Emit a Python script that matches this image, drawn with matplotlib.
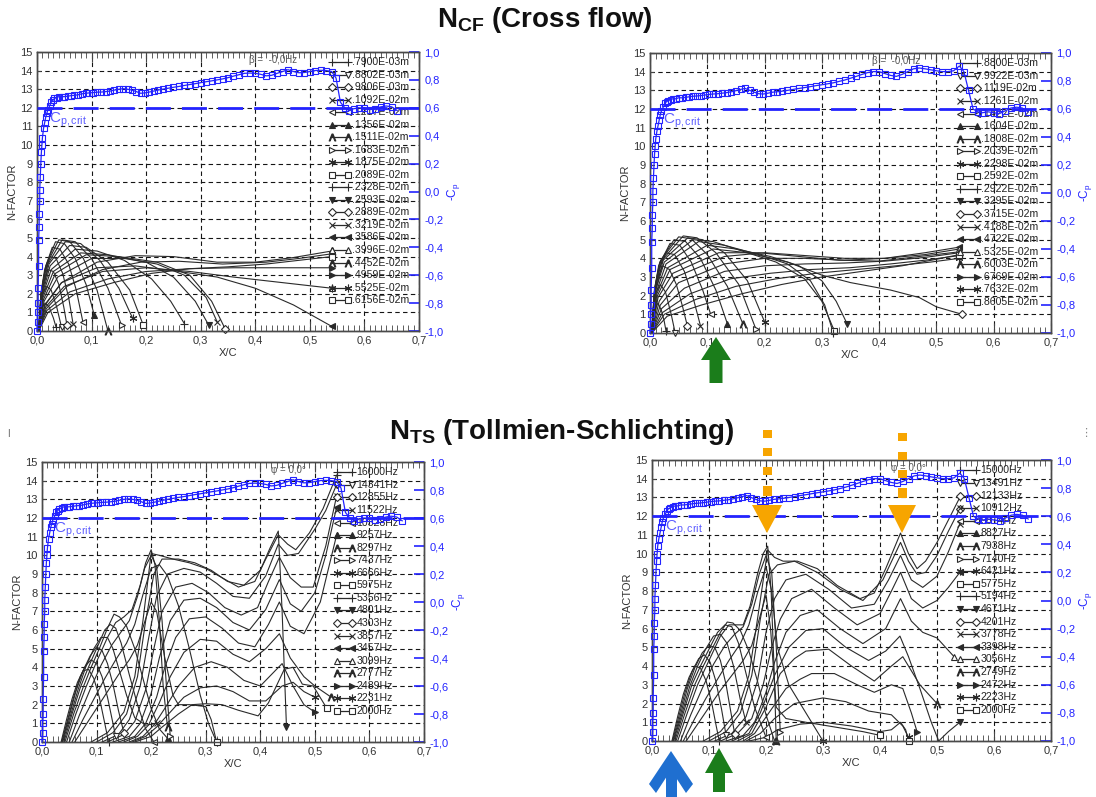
import matplotlib
matplotlib.use('Agg')
import matplotlib.pyplot as plt
from matplotlib.patches import Polygon
import numpy as np

plt.rcParams['font.family'] = ['Liberation Sans', 'DejaVu Sans']
plt.rcParams['mathtext.fontset'] = 'custom'
plt.rcParams['mathtext.rm'] = 'Liberation Sans'
plt.rcParams['mathtext.it'] = 'Liberation Sans:italic'
plt.rcParams['mathtext.bf'] = 'Liberation Sans:bold'

# ---------------- data ----------------
x_ticks = [0.0, 0.1, 0.2, 0.3, 0.4, 0.5, 0.6, 0.7]
x_tick_labels = ['0,0', '0,1', '0,2', '0,3', '0,4', '0,5', '0,6', '0,7']
n_ticks = list(range(16))
cp_ticks = [-1.0, -0.8, -0.6, -0.4, -0.2, 0.0, 0.2, 0.4, 0.6, 0.8, 1.0]
cp_tick_labels = ['-1,0', '-0,8', '-0,6', '-0,4', '-0,2', '0,0', '0,2', '0,4', '0,6', '0,8', '1,0']
cp_crit = 0.6

cf_left_labels = ['.7900E-03m', '.8802E-03m', '.9806E-03m', '.1092E-02m', '.1217E-02m',
                  '.1356E-02m', '.1511E-02m', '.1683E-02m', '.1875E-02m', '.2089E-02m',
                  '.2328E-02m', '.2593E-02m', '.2889E-02m', '.3219E-02m', '.3586E-02m',
                  '.3996E-02m', '.4452E-02m', '.4959E-02m', '.5525E-02m', '.6156E-02m']
cf_right_labels = ['.8800E-03m', '.9922E-03m', '.1119E-02m', '.1261E-02m', '.1422E-02m',
                   '.1604E-02m', '.1808E-02m', '.2039E-02m', '.2298E-02m', '.2592E-02m',
                   '.2922E-02m', '.3295E-02m', '.3715E-02m', '.4188E-02m', '.4722E-02m',
                   '.5325E-02m', '.6003E-02m', '.6769E-02m', '.7632E-02m', '.8605E-02m']
ts_left_labels = ['16000Hz', '14341Hz', '12855Hz', '11522Hz', '10328Hz', '9257Hz', '8297Hz',
                  '7437Hz', '6666Hz', '5975Hz', '5356Hz', '4801Hz', '4303Hz', '3857Hz',
                  '3457Hz', '3099Hz', '2777Hz', '2489Hz', '2231Hz', '2000Hz']
ts_right_labels = ['15000Hz', '13491Hz', '12133Hz', '10912Hz', '9814Hz', '8827Hz', '7938Hz',
                   '7140Hz', '6421Hz', '5775Hz', '5194Hz', '4671Hz', '4201Hz', '3778Hz',
                   '3398Hz', '3056Hz', '2749Hz', '2472Hz', '2223Hz', '2000Hz']

# pressure distribution (-Cp) versus x/c
cp_left_x = [0.000, 0.001, 0.001, 0.002, 0.002, 0.003, 0.003, 0.004, 0.004, 0.005, 0.005, 0.006,
             0.007, 0.008, 0.009, 0.010, 0.012, 0.014, 0.016, 0.018, 0.020, 0.023, 0.026, 0.029,
             0.032, 0.036, 0.040, 0.045, 0.050, 0.056, 0.062, 0.068, 0.075, 0.082, 0.089, 0.096,
             0.103, 0.110, 0.118, 0.126, 0.134, 0.142, 0.150, 0.158, 0.166, 0.174, 0.182, 0.190,
             0.198, 0.206, 0.214, 0.222, 0.230, 0.240, 0.250, 0.260, 0.270, 0.280, 0.290, 0.300,
             0.310, 0.320, 0.330, 0.340, 0.350, 0.360, 0.370, 0.380, 0.390, 0.400, 0.410, 0.420,
             0.430, 0.440, 0.450, 0.460, 0.470, 0.480, 0.490, 0.500, 0.510, 0.520, 0.530, 0.540,
             0.548, 0.556, 0.564, 0.572, 0.580, 0.590, 0.600, 0.610, 0.620, 0.630, 0.640, 0.650,
             0.660]
cp_left_v = [-1.000, -0.933, -0.867, -0.800, -0.693, -0.533, -0.347, -0.253, -0.160, -0.067,
             0.013, 0.107, 0.200, 0.280, 0.333, 0.387, 0.453, 0.493, 0.533, 0.560, 0.587,
             0.613, 0.640, 0.653, 0.667, 0.673, 0.680, 0.680, 0.680,
             0.683, 0.687, 0.689, 0.693, 0.700, 0.704, 0.707, 0.709, 0.712,
             0.713, 0.716, 0.720, 0.727, 0.733, 0.737, 0.733, 0.727, 0.716, 0.704, 0.707, 0.713,
             0.720, 0.727, 0.733,
             0.740, 0.747, 0.753, 0.760, 0.767, 0.773, 0.780, 0.787, 0.793, 0.800, 0.807, 0.816,
             0.827, 0.837, 0.847, 0.849, 0.847, 0.840, 0.829, 0.833, 0.847, 0.860, 0.873, 0.860,
             0.851, 0.853, 0.860, 0.867, 0.869, 0.867, 0.860,
             0.813, 0.640, 0.600, 0.580, 0.593,
             0.600, 0.597, 0.587, 0.593, 0.607, 0.613, 0.607, 0.580]
cp_right_x = cp_left_x
cp_right_v = [-1.000, -0.933, -0.867, -0.800, -0.693, -0.533, -0.347, -0.253, -0.160, -0.067,
              0.013, 0.107, 0.200, 0.280, 0.333, 0.387, 0.440, 0.480, 0.520, 0.560, 0.587,
              0.613, 0.640, 0.653, 0.660, 0.667, 0.673, 0.673, 0.680,
              0.680, 0.683, 0.687, 0.691, 0.693, 0.696, 0.700, 0.704, 0.707,
              0.709, 0.713, 0.717, 0.723, 0.731, 0.740, 0.747, 0.733, 0.720, 0.709, 0.707, 0.713,
              0.720, 0.723, 0.727,
              0.733, 0.740, 0.747, 0.753, 0.760, 0.767, 0.773, 0.780, 0.787, 0.797, 0.807, 0.820,
              0.833, 0.847, 0.860, 0.867, 0.867, 0.853, 0.840, 0.833, 0.847, 0.867, 0.887, 0.893,
              0.887, 0.880, 0.873, 0.867, 0.867, 0.873, 0.907,
              0.867, 0.733, 0.600, 0.580, 0.573,
              0.580, 0.573, 0.567, 0.587, 0.607, 0.613, 0.607, 0.580]

# N-factor curves: crossflow, left case
cf_left_x = [
    [0.003, 0.006, 0.01, 0.015, 0.022, 0.03, 0.035],
    [0.003, 0.006, 0.011, 0.018, 0.026, 0.036, 0.045],
    [0.003, 0.007, 0.012, 0.02, 0.03, 0.04, 0.049, 0.055],
    [0.003, 0.007, 0.013, 0.024, 0.035, 0.047, 0.058, 0.066],
    [0.003, 0.007, 0.014, 0.028, 0.042, 0.058, 0.072, 0.084],
    [0.003, 0.008, 0.016, 0.034, 0.05, 0.07, 0.09, 0.105],
    [0.003, 0.008, 0.018, 0.04, 0.06, 0.085, 0.11, 0.13],
    [0.003, 0.009, 0.02, 0.046, 0.07, 0.1, 0.13, 0.155],
    [0.003, 0.009, 0.022, 0.052, 0.08, 0.115, 0.15, 0.175],
    [0.003, 0.01, 0.024, 0.06, 0.09, 0.13, 0.17, 0.195],
    [0.003, 0.01, 0.026, 0.07, 0.11, 0.16, 0.21, 0.245, 0.27],
    [0.003, 0.011, 0.03, 0.08, 0.13, 0.2, 0.25, 0.29, 0.315],
    [0.003, 0.012, 0.034, 0.09, 0.15, 0.22, 0.28, 0.32, 0.345],
    [0.003, 0.013, 0.038, 0.1, 0.16, 0.22, 0.27, 0.31, 0.33],
    [0.003, 0.014, 0.045, 0.11, 0.18, 0.26, 0.33, 0.4, 0.47, 0.54],
    [0.003, 0.016, 0.05, 0.12, 0.2, 0.28, 0.36, 0.45, 0.54],
    [0.003, 0.015, 0.045, 0.11, 0.18, 0.25, 0.33, 0.4, 0.47, 0.54],
    [0.003, 0.018, 0.06, 0.13, 0.2, 0.28, 0.36, 0.45, 0.54],
    [0.003, 0.017, 0.055, 0.12, 0.19, 0.26, 0.34, 0.42, 0.48, 0.54],
    [0.003, 0.02, 0.07, 0.14, 0.21, 0.28, 0.35, 0.42, 0.48, 0.54]]
cf_left_n = [
    [0, 0.8, 1.3, 1.5, 1.3, 0.7, 0.2],
    [0, 1.2, 2.0, 2.4, 2.2, 1.3, 0.2],
    [0, 1.6, 2.6, 3.3, 3.2, 2.5, 1.3, 0.3],
    [0, 1.9, 3.0, 4.0, 3.9, 3.1, 1.8, 0.4],
    [0, 2.0, 3.3, 4.5, 4.4, 3.6, 2.2, 0.5],
    [0, 2.1, 3.5, 4.8, 4.7, 3.9, 2.5, 0.85],
    [0, 2.1, 3.6, 4.9, 4.8, 3.9, 2.2, 0.0],
    [0, 2.1, 3.6, 4.9, 4.8, 3.9, 2.3, 0.3],
    [0, 2.0, 3.6, 4.8, 4.7, 3.8, 2.3, 0.7],
    [0, 2.0, 3.5, 4.6, 4.5, 3.7, 2.2, 0.3],
    [0, 1.9, 3.3, 4.4, 4.3, 3.8, 2.8, 1.6, 0.4],
    [0, 1.8, 3.2, 4.2, 4.1, 3.7, 2.9, 1.6, 0.3],
    [0, 1.7, 3.1, 4.1, 4.0, 3.7, 3.0, 1.6, 0.1],
    [0, 1.6, 2.9, 3.9, 3.9, 3.6, 3.0, 1.8, 0.5],
    [0, 1.4, 2.6, 3.4, 3.5, 3.2, 2.9, 2.3, 1.4, 0.25],
    [0, 1.3, 2.4, 3.2, 3.4, 3.2, 2.9, 2.6, 2.3],
    [0, 1.4, 2.6, 3.7, 4.05, 4.0, 3.7, 3.7, 3.95, 4.3],
    [0, 1.1, 2.1, 2.8, 3.2, 3.35, 3.4, 3.4, 3.4],
    [0, 1.2, 2.4, 3.3, 3.7, 3.75, 3.6, 3.7, 3.9, 4.15],
    [0, 1.0, 2.0, 2.6, 3.1, 3.35, 3.45, 3.6, 3.8, 4.0]]

# crossflow, right case
cf_right_x = [
    [0.003, 0.006, 0.01, 0.014, 0.02, 0.025, 0.028],
    [0.003, 0.006, 0.011, 0.018, 0.027, 0.037, 0.044],
    [0.003, 0.007, 0.012, 0.022, 0.034, 0.046, 0.057, 0.065],
    [0.003, 0.007, 0.014, 0.028, 0.043, 0.06, 0.076, 0.088],
    [0.003, 0.008, 0.015, 0.035, 0.052, 0.072, 0.092, 0.106],
    [0.003, 0.008, 0.017, 0.042, 0.062, 0.088, 0.115, 0.135],
    [0.003, 0.009, 0.019, 0.05, 0.072, 0.1, 0.135, 0.162],
    [0.003, 0.009, 0.021, 0.058, 0.082, 0.115, 0.155, 0.185],
    [0.003, 0.01, 0.023, 0.066, 0.092, 0.13, 0.17, 0.2],
    [0.003, 0.01, 0.025, 0.075, 0.11, 0.16, 0.22, 0.27, 0.3, 0.322],
    [0.003, 0.011, 0.028, 0.085, 0.13, 0.19, 0.24, 0.28, 0.305, 0.32],
    [0.003, 0.012, 0.031, 0.1, 0.15, 0.21, 0.26, 0.3, 0.325, 0.344],
    [0.003, 0.013, 0.035, 0.11, 0.17, 0.24, 0.3, 0.35, 0.42, 0.47, 0.5, 0.545],
    [0.003, 0.014, 0.04, 0.12, 0.19, 0.26, 0.33, 0.4, 0.47, 0.54],
    [0.003, 0.016, 0.045, 0.13, 0.2, 0.27, 0.34, 0.41, 0.48, 0.54],
    [0.003, 0.018, 0.05, 0.13, 0.2, 0.27, 0.34, 0.41, 0.48, 0.54],
    [0.003, 0.02, 0.06, 0.13, 0.2, 0.27, 0.34, 0.41, 0.48, 0.54],
    [0.003, 0.022, 0.07, 0.14, 0.21, 0.28, 0.35, 0.42, 0.48, 0.54],
    [0.003, 0.025, 0.08, 0.15, 0.22, 0.29, 0.36, 0.43, 0.49, 0.54],
    [0.003, 0.03, 0.09, 0.16, 0.23, 0.3, 0.37, 0.44, 0.5, 0.54]]
cf_right_n = [
    [0, 0.9, 1.4, 1.6, 1.2, 0.6, 0.1],
    [0, 1.4, 2.2, 2.6, 2.2, 1.0, 0.0],
    [0, 1.8, 2.8, 3.6, 3.4, 2.6, 1.4, 0.4],
    [0, 2.1, 3.3, 4.3, 4.2, 3.3, 1.8, 0.4],
    [0, 2.3, 3.6, 4.8, 4.7, 3.8, 2.3, 1.0],
    [0, 2.4, 3.8, 5.0, 4.9, 4.0, 2.3, 0.5],
    [0, 2.4, 3.9, 5.15, 5.05, 4.2, 2.5, 0.5],
    [0, 2.4, 3.9, 5.2, 5.1, 4.3, 2.6, 0.2],
    [0, 2.3, 3.9, 5.1, 5.0, 4.3, 2.8, 0.6],
    [0, 2.3, 3.8, 5.0, 4.9, 4.4, 3.8, 2.9, 1.7, 0.1],
    [0, 2.2, 3.7, 4.9, 4.7, 4.2, 3.7, 2.8, 1.5, 0.0],
    [0, 2.1, 3.5, 4.7, 4.5, 4.1, 3.6, 2.8, 1.7, 0.5],
    [0, 2.0, 3.4, 4.5, 4.3, 3.8, 3.1, 2.7, 2.3, 1.9, 1.4, 1.0],
    [0, 1.9, 3.2, 4.3, 4.3, 4.1, 3.9, 3.85, 4.1, 4.35],
    [0, 1.7, 3.0, 4.1, 4.3, 4.15, 4.0, 4.0, 4.3, 4.6],
    [0, 1.5, 2.7, 3.7, 4.0, 4.0, 3.9, 4.0, 4.2, 4.5],
    [0, 1.3, 2.4, 3.3, 3.6, 3.7, 3.75, 3.85, 4.05, 4.3],
    [0, 1.1, 2.1, 2.9, 3.2, 3.4, 3.5, 3.7, 3.9, 4.15],
    [0, 1.0, 1.8, 2.5, 2.9, 3.2, 3.4, 3.6, 3.8, 4.0],
    [0, 0.9, 1.5, 2.1, 2.6, 3.0, 3.3, 3.6, 3.95, 4.2]]

# Tollmien-Schlichting, left case
ts_left_x = [
    [0.035, 0.045, 0.055, 0.065, 0.075, 0.085, 0.095, 0.105, 0.115, 0.122],
    [0.036, 0.047, 0.058, 0.07, 0.08, 0.09, 0.1, 0.11, 0.12, 0.13, 0.135],
    [0.037, 0.05, 0.062, 0.075, 0.088, 0.1, 0.11, 0.12, 0.13, 0.14, 0.15],
    [0.038, 0.052, 0.066, 0.08, 0.095, 0.108, 0.12, 0.13, 0.14, 0.155, 0.17, 0.19, 0.21],
    [0.04, 0.055, 0.07, 0.085, 0.1, 0.115, 0.125, 0.135, 0.145, 0.16, 0.175, 0.19, 0.205],
    [0.042, 0.058, 0.075, 0.09, 0.105, 0.12, 0.132, 0.142, 0.155, 0.17, 0.185, 0.2, 0.215, 0.23],
    [0.045, 0.062, 0.08, 0.1, 0.12, 0.135, 0.15, 0.165, 0.18, 0.19, 0.2, 0.207, 0.215, 0.222, 0.23],
    [0.05, 0.068, 0.088, 0.108, 0.128, 0.145, 0.16, 0.175, 0.188, 0.2, 0.21, 0.22, 0.228, 0.235],
    [0.055, 0.075, 0.095, 0.115, 0.135, 0.155, 0.17, 0.185, 0.2, 0.215, 0.23, 0.25, 0.27, 0.29, 0.305, 0.32],
    [0.06, 0.08, 0.1, 0.12, 0.14, 0.16, 0.175, 0.19, 0.2, 0.21, 0.225, 0.24, 0.25, 0.27, 0.3, 0.31, 0.32],
    [0.09, 0.12, 0.15, 0.17, 0.185, 0.2, 0.215, 0.24, 0.27, 0.3, 0.33, 0.36, 0.39, 0.41, 0.433, 0.45, 0.465, 0.49, 0.515, 0.54],
    [0.1, 0.13, 0.155, 0.175, 0.19, 0.205, 0.22, 0.25, 0.28, 0.31, 0.34, 0.37, 0.4, 0.418, 0.433, 0.44, 0.448],
    [0.11, 0.14, 0.16, 0.18, 0.195, 0.21, 0.23, 0.26, 0.29, 0.32, 0.35, 0.38, 0.41, 0.433, 0.45, 0.47, 0.5, 0.52, 0.54],
    [0.12, 0.15, 0.17, 0.19, 0.205, 0.22, 0.245, 0.275, 0.305, 0.335, 0.365, 0.395, 0.415, 0.435, 0.455, 0.475, 0.497, 0.52, 0.54],
    [0.13, 0.16, 0.18, 0.2, 0.215, 0.235, 0.26, 0.29, 0.32, 0.35, 0.38, 0.41, 0.435, 0.455, 0.475, 0.5, 0.52, 0.54],
    [0.14, 0.17, 0.19, 0.21, 0.225, 0.245, 0.27, 0.3, 0.33, 0.36, 0.39, 0.415, 0.435, 0.455, 0.48, 0.51, 0.54],
    [0.15, 0.175, 0.195, 0.215, 0.235, 0.26, 0.29, 0.32, 0.35, 0.38, 0.41, 0.435, 0.455, 0.48, 0.5, 0.53],
    [0.16, 0.185, 0.205, 0.225, 0.25, 0.28, 0.31, 0.34, 0.37, 0.4, 0.42, 0.44, 0.46, 0.48, 0.5],
    [0.165, 0.19, 0.21, 0.235, 0.26, 0.29, 0.32, 0.35, 0.38, 0.41, 0.44, 0.46, 0.48, 0.5],
    [0.17, 0.2, 0.22, 0.25, 0.275, 0.3, 0.33, 0.36, 0.396, 0.415, 0.444, 0.46, 0.477, 0.497, 0.522]]
ts_left_n = [
    [0, 1.2, 2.3, 3.2, 3.8, 3.9, 3.4, 2.4, 1.0, 0.0],
    [0, 1.2, 2.4, 3.5, 4.1, 4.4, 4.2, 3.5, 2.4, 1.0, 0.3],
    [0, 1.4, 2.7, 3.8, 4.6, 5.1, 4.9, 4.2, 3.1, 1.7, 0.5],
    [0, 1.4, 2.8, 4.0, 5.0, 5.6, 5.6, 5.0, 4.0, 2.5, 1.3, 0.9, 1.0],
    [0, 1.5, 2.9, 4.0, 5.0, 6.0, 6.3, 6.1, 5.3, 3.6, 2.0, 0.7, 0.0],
    [0, 1.5, 2.9, 4.0, 5.0, 6.1, 6.85, 6.7, 6.2, 5.0, 3.4, 1.8, 0.7, 0.2],
    [0, 1.5, 2.9, 4.3, 5.6, 6.4, 6.7, 7.1, 8.4, 9.6, 10.3, 9.5, 6.5, 3.0, 0.8],
    [0, 1.4, 2.8, 4.1, 5.2, 5.9, 6.5, 7.8, 9.3, 10.0, 9.4, 6.5, 3.0, 0.3],
    [0, 1.2, 2.3, 3.4, 4.4, 5.3, 6.3, 7.9, 9.3, 9.5, 8.9, 7.3, 5.0, 2.5, 1.0, 0.0],
    [0, 0.9, 1.8, 2.7, 3.6, 4.4, 5.2, 6.6, 7.5, 7.0, 4.5, 2.5, 2.0, 2.0, 1.9, 1.2, 0.0],
    [0, 0.5, 1.6, 3.5, 6.5, 10.1, 10.0, 9.8, 9.6, 9.3, 8.8, 8.3, 8.6, 9.8, 11.1, 10.6, 10.3, 11.2, 12.5, 14.3],
    [0, 0.5, 1.5, 3.5, 6.5, 9.0, 9.8, 9.8, 9.6, 9.2, 8.6, 8.4, 9.2, 10.4, 11.3, 7.0, 0.8],
    [0, 0.4, 1.2, 3.0, 5.5, 7.8, 9.0, 9.3, 9.1, 8.5, 7.8, 7.7, 8.9, 10.6, 10.0, 10.1, 11.4, 12.4, 13.8],
    [0, 0.4, 1.1, 2.8, 5.0, 7.0, 8.3, 8.5, 8.0, 7.2, 6.8, 7.2, 8.6, 9.9, 8.8, 8.3, 8.3, 10.5, 13.2],
    [0, 0.3, 1.0, 2.6, 4.5, 6.5, 7.6, 7.7, 7.2, 6.4, 6.0, 7.1, 8.7, 7.4, 7.0, 8.0, 10.0, 12.6],
    [0, 0.3, 1.0, 2.4, 4.0, 5.6, 6.6, 6.7, 6.1, 5.3, 5.1, 6.3, 7.5, 6.2, 5.8, 7.5, 11.1],
    [0, 0.3, 0.9, 2.1, 3.5, 4.8, 5.5, 5.4, 4.7, 4.3, 5.0, 5.8, 4.5, 3.5, 3.0, 2.4],
    [0, 0.3, 0.9, 1.8, 3.0, 4.0, 4.3, 4.0, 3.3, 3.0, 3.6, 4.2, 3.0, 2.0, 1.6],
    [0, 0.3, 0.8, 1.6, 2.4, 2.9, 3.0, 2.7, 2.2, 2.2, 3.0, 3.2, 2.7, 2.4],
    [0, 0.3, 0.8, 1.5, 2.0, 2.05, 2.0, 1.7, 1.4, 2.1, 3.9, 4.0, 3.1, 3.0, 1.8]]

# Tollmien-Schlichting, right case
ts_right_x = [
    [0.035, 0.045, 0.055, 0.065, 0.075, 0.085, 0.095, 0.105, 0.112, 0.118],
    [0.036, 0.047, 0.058, 0.07, 0.082, 0.092, 0.102, 0.112, 0.122, 0.13],
    [0.037, 0.05, 0.062, 0.075, 0.088, 0.1, 0.11, 0.12, 0.13, 0.138, 0.145],
    [0.038, 0.052, 0.066, 0.08, 0.094, 0.108, 0.12, 0.132, 0.143, 0.155, 0.165],
    [0.04, 0.055, 0.07, 0.085, 0.1, 0.115, 0.128, 0.14, 0.152, 0.165, 0.18, 0.2],
    [0.042, 0.058, 0.075, 0.09, 0.105, 0.12, 0.132, 0.142, 0.155, 0.17, 0.185, 0.2, 0.215],
    [0.045, 0.062, 0.08, 0.1, 0.12, 0.135, 0.15, 0.16, 0.172, 0.185, 0.195, 0.203, 0.209, 0.214, 0.218],
    [0.05, 0.068, 0.088, 0.108, 0.128, 0.145, 0.16, 0.175, 0.188, 0.2, 0.21, 0.218, 0.225],
    [0.055, 0.075, 0.095, 0.115, 0.135, 0.155, 0.17, 0.185, 0.2, 0.21, 0.22, 0.24, 0.26, 0.28, 0.3],
    [0.06, 0.08, 0.1, 0.12, 0.14, 0.16, 0.175, 0.19, 0.2, 0.208, 0.218, 0.235, 0.27, 0.32, 0.37, 0.4],
    [0.09, 0.12, 0.15, 0.17, 0.185, 0.203, 0.215, 0.23, 0.255, 0.29, 0.325, 0.365, 0.39, 0.41, 0.436, 0.45, 0.465, 0.48, 0.5, 0.52, 0.54],
    [0.14, 0.17, 0.19, 0.215, 0.24, 0.27, 0.3, 0.34, 0.38, 0.41, 0.435, 0.45, 0.47, 0.49, 0.503, 0.52, 0.54],
    [0.1, 0.13, 0.155, 0.175, 0.19, 0.205, 0.22, 0.25, 0.29, 0.33, 0.37, 0.405, 0.436, 0.45, 0.465, 0.48, 0.5, 0.52, 0.54],
    [0.11, 0.14, 0.165, 0.185, 0.2, 0.215, 0.235, 0.27, 0.31, 0.35, 0.39, 0.415, 0.436, 0.455, 0.475, 0.5, 0.52, 0.54],
    [0.12, 0.15, 0.175, 0.195, 0.21, 0.225, 0.245, 0.28, 0.32, 0.36, 0.4, 0.42, 0.436, 0.455, 0.475, 0.5, 0.52, 0.54],
    [0.13, 0.16, 0.18, 0.2, 0.215, 0.235, 0.26, 0.29, 0.33, 0.37, 0.41, 0.436, 0.455, 0.475, 0.5, 0.53],
    [0.15, 0.175, 0.2, 0.225, 0.25, 0.27, 0.31, 0.35, 0.39, 0.42, 0.44, 0.47, 0.5],
    [0.16, 0.18, 0.205, 0.235, 0.26, 0.28, 0.32, 0.36, 0.39, 0.42, 0.44, 0.455, 0.465],
    [0.165, 0.19, 0.215, 0.25, 0.3, 0.34, 0.38, 0.42, 0.44, 0.45],
    [0.17, 0.2, 0.22, 0.26, 0.3, 0.35, 0.4, 0.42, 0.436, 0.445, 0.45]]
ts_right_n = [
    [0, 1.3, 2.5, 3.4, 4.0, 3.9, 3.2, 2.0, 0.9, 0.0],
    [0, 1.3, 2.6, 3.7, 4.4, 4.6, 4.2, 3.2, 1.7, 0.3],
    [0, 1.4, 2.8, 3.9, 4.7, 5.1, 5.0, 4.3, 3.0, 1.6, 0.4],
    [0, 1.4, 2.9, 4.0, 4.9, 5.6, 5.7, 5.2, 4.0, 2.2, 1.0],
    [0, 1.5, 3.0, 4.0, 4.9, 5.8, 6.2, 6.1, 5.2, 3.6, 1.8, 0.2],
    [0, 1.5, 3.0, 4.0, 4.9, 5.8, 6.35, 6.3, 5.9, 4.8, 3.2, 1.4, 0.0],
    [0, 1.5, 3.0, 4.3, 5.6, 6.2, 6.2, 6.2, 7.2, 8.9, 10.0, 10.4, 8.0, 4.0, 0.0],
    [0, 1.4, 2.8, 4.1, 5.1, 5.7, 6.1, 7.3, 8.9, 9.9, 9.0, 5.0, 0.5],
    [0, 1.2, 2.3, 3.3, 4.3, 5.2, 6.2, 7.9, 9.3, 8.0, 5.0, 3.0, 2.0, 1.0, 0.0],
    [0, 0.9, 1.8, 2.7, 3.5, 4.3, 5.1, 6.7, 7.8, 6.0, 1.8, 1.2, 1.0, 0.75, 0.5, 0.3],
    [0, 0.5, 1.6, 3.5, 6.5, 10.2, 9.8, 9.6, 9.6, 9.2, 8.3, 7.6, 7.9, 9.2, 11.1, 10.0, 9.2, 9.6, 10.6, 11.8, 13.0],
    [0, 0.4, 1.5, 3.5, 5.0, 5.9, 6.0, 5.0, 4.3, 4.8, 5.6, 4.5, 2.8, 1.0, 0.0, 0.5, 1.0],
    [0, 0.5, 1.5, 3.5, 6.5, 8.9, 9.4, 9.6, 9.0, 8.1, 7.5, 8.6, 10.6, 9.6, 8.9, 9.0, 9.9, 11.2, 12.4],
    [0, 0.4, 1.3, 3.2, 5.8, 7.6, 8.6, 8.9, 8.1, 7.1, 7.3, 8.6, 9.9, 8.6, 8.2, 8.8, 10.1, 11.6],
    [0, 0.4, 1.2, 3.0, 5.0, 6.5, 7.6, 8.1, 7.1, 6.2, 6.8, 8.0, 9.0, 7.6, 7.1, 7.5, 8.2, 9.0],
    [0, 0.3, 1.0, 2.6, 4.2, 5.8, 6.7, 7.0, 6.0, 5.2, 6.0, 7.6, 6.4, 5.8, 5.5, 4.5],
    [0, 0.4, 1.8, 3.6, 4.4, 4.8, 4.9, 4.0, 3.2, 4.0, 4.5, 3.0, 2.0],
    [0, 0.4, 1.5, 2.8, 3.3, 3.6, 3.6, 3.0, 2.6, 3.0, 2.8, 1.5, 0.5],
    [0, 0.4, 1.2, 2.0, 2.3, 2.1, 1.6, 1.4, 0.8, 0.2],
    [0, 0.2, 0.6, 0.9, 1.0, 0.8, 0.5, 0.6, 1.0, 0.6, 0.0]]

# ---------------- styling ----------------
W, H = 1096, 797
BLUE = '#2323ff'
BLUE_L = '#5b5bff'
INK = '#2a2a2a'
LAMBDA = r'$\Lambda$'
AST = (6, 2, 0)
MARKERS = ['+', 'v', 'D', 'x', '<', '^', LAMBDA, '>', AST, 's',
           '+', 'v', 'D', 'x', '<', '^', LAMBDA, '>', AST, 's']
FILLED = [0, 0, 0, 0, 0, 1, 0, 0, 0, 0, 0, 1, 0, 0, 1, 0, 0, 1, 0, 0]
MSIZE = {'+': 6, 'v': 4.5, 'D': 3.6, 'x': 4.5, '<': 4.5, '^': 4.5, LAMBDA: 5.0,
         '>': 4.5, 's': 4.2}

fig = plt.figure(figsize=(W / 100, H / 100), dpi=100)
fig.patch.set_facecolor('white')


def msz(m):
    return MSIZE.get(m, 5.5) if isinstance(m, str) else 5.5


def panel(box, xs, ns, labels, cpx, cpv, leg_x, par_text, par_x):
    l, t, r, b = box
    ax = fig.add_axes([l / W, 1 - b / H, (r - l) / W, (b - t) / H])
    ax.set_xlim(0, 0.7)
    ax.set_ylim(0, 15)
    ax.set_xticks(x_ticks)
    ax.set_xticklabels(x_tick_labels)
    ax.set_xticks([i / 100 for i in range(71)], minor=True)
    ax.set_yticks(n_ticks)
    ax.tick_params(axis='x', which='major', direction='in', length=7, top=True,
                   labelsize=8, pad=3, color='#444', labelcolor='#333')
    ax.tick_params(axis='x', which='minor', direction='in', length=4, top=True, color='#444')
    ax.tick_params(axis='y', which='major', direction='in', length=3, labelsize=8, pad=3,
                   color='#444', labelcolor='#333')
    ax.grid(True, which='major', color='#151515', lw=0.8, ls=(0, (4, 3)))
    for sp in ax.spines.values():
        sp.set_color('#4a4a4a')
        sp.set_linewidth(1.0)
    ax.set_xlabel('X/C', fontsize=8, labelpad=2, color='#333')
    ax.set_ylabel('N-FACTOR', fontsize=8, labelpad=2, color='#333')

    for i, (x, n) in enumerate(zip(xs, ns)):
        m = MARKERS[i]
        ax.plot(x, n, color=INK, lw=0.8, zorder=3)
        ax.plot([x[-1]], [n[-1]], ls='none', marker=m, ms=msz(m), mew=0.8,
                mec=INK, mfc=INK if FILLED[i] else 'white', zorder=4, clip_on=False)

    for i, lab in enumerate(labels):
        y = 14.45 - i * 0.673
        m = MARKERS[i]
        ax.plot([leg_x, leg_x + 0.028], [y, y], color=INK, lw=0.9, marker=m, ms=msz(m),
                mew=0.8, mec=INK, mfc=INK if FILLED[i] else 'white', zorder=4)
        ax.text(leg_x + 0.036, y, lab, fontsize=7.6, va='center', ha='left',
                color='#222', zorder=5)
    ax.text(par_x, 14.55, par_text, fontsize=7, va='center', ha='left', color='#555', zorder=2)

    ax2 = ax.twinx()
    ax2.set_ylim(-1, 1)
    ax2.set_yticks(cp_ticks)
    ax2.set_yticklabels(cp_tick_labels)
    ax2.tick_params(axis='y', direction='in', length=7, width=1.2, color=BLUE,
                    labelcolor=BLUE, labelsize=8, pad=4)
    for sp in ax2.spines.values():
        sp.set_color('#4a4a4a')
        sp.set_linewidth(1.0)
    ax2.set_ylabel(r'-C$_\mathrm{p}$', color=BLUE, fontsize=8.5, labelpad=1)
    ax2.axhline(cp_crit, color=BLUE, lw=2.0, ls=(0, (9, 4)), zorder=5)
    ax2.plot(cpx, cpv, color=BLUE, lw=0.9, marker='s', ms=4.4, mfc='none', mec=BLUE,
             mew=0.8, zorder=6, clip_on=False)
    ax2.text(0.022, 0.515, r'$\mathrm{C}_{\mathrm{p,crit}}$', color=BLUE_L, fontsize=11,
             va='center', ha='left', zorder=6)
    return ax


panel((37, 52, 419, 331), cf_left_x, cf_left_n, cf_left_labels, cp_left_x, cp_left_v,
      0.541, 'β =  -0,0Hz', 0.388)
panel((650, 53, 1051, 333), cf_right_x, cf_right_n, cf_right_labels, cp_right_x, cp_right_v,
      0.542, 'β =  -0,0Hz', 0.388)
panel((42, 462, 424, 742), ts_left_x, ts_left_n, ts_left_labels, cp_left_x, cp_left_v,
      0.540, 'φ = 0,0°', 0.42)
panel((652, 460, 1051, 741), ts_right_x, ts_right_n, ts_right_labels, cp_right_x, cp_right_v,
      0.540, 'φ = 0,0°', 0.42)

# titles
fig.text(545 / W, 1 - 20 / H, r'N$_{\mathbf{CF}}$ (Cross flow)', fontsize=20,
         fontweight='bold', ha='center', va='center', color='#111')
fig.text(562 / W, 1 - 432 / H, r'N$_{\mathbf{TS}}$ (Tollmien-Schlichting)', fontsize=20,
         fontweight='bold', ha='center', va='center', color='#111')
fig.text(8 / W, 1 - 434 / H, 'I', fontsize=7, color='#666', ha='center', va='center')
fig.text(1086 / W, 1 - 433 / H, '⋮', fontsize=8, color='#888', ha='center', va='center')


def P(pts):
    return [(px / W, 1 - py / H) for px, py in pts]


GREEN = '#1b7d1b'
ORANGE = '#f7a500'
BLUE_ARROW = '#1f6fd0'


def up_arrow(cx, tip, head_b, base, head_w, shaft_w, color):
    pts = [(cx, tip), (cx - head_w / 2, head_b), (cx - shaft_w / 2, head_b),
           (cx - shaft_w / 2, base), (cx + shaft_w / 2, base), (cx + shaft_w / 2, head_b),
           (cx + head_w / 2, head_b)]
    fig.add_artist(Polygon(P(pts), closed=True, facecolor=color, edgecolor='none',
                           transform=fig.transFigure))


up_arrow(716, 337, 360, 383, 30, 13, GREEN)
up_arrow(719, 748, 773, 792, 28, 12, GREEN)

# blue chevron arrow
fig.add_artist(Polygon(P([(671, 751), (649, 784), (656, 793), (671, 770), (686, 793),
                          (693, 784)]), closed=True, facecolor=BLUE_ARROW, edgecolor='none',
                       transform=fig.transFigure))
fig.add_artist(Polygon(P([(666, 768), (677, 768), (677, 797), (666, 797)]), closed=True,
                       facecolor=BLUE_ARROW, edgecolor='none', transform=fig.transFigure))


def dotted_arrow(cx, ys, head_top, tip, head_w, color):
    for y0, y1 in ys:
        fig.add_artist(Polygon(P([(cx - 4.5, y0), (cx + 4.5, y0), (cx + 4.5, y1),
                                  (cx - 4.5, y1)]), closed=True, facecolor=color,
                               edgecolor='none', transform=fig.transFigure))
    fig.add_artist(Polygon(P([(cx - head_w / 2, head_top), (cx + head_w / 2, head_top),
                              (cx, tip)]), closed=True, facecolor=color, edgecolor='none',
                           transform=fig.transFigure))


dotted_arrow(767, [(430, 438), (448, 456), (467, 475), (486, 496)], 505, 533, 30, ORANGE)
dotted_arrow(902, [(433, 441), (452, 460), (470, 478), (488, 498)], 505, 533, 28, ORANGE)

fig.savefig('out.png', dpi=100, facecolor='white')
